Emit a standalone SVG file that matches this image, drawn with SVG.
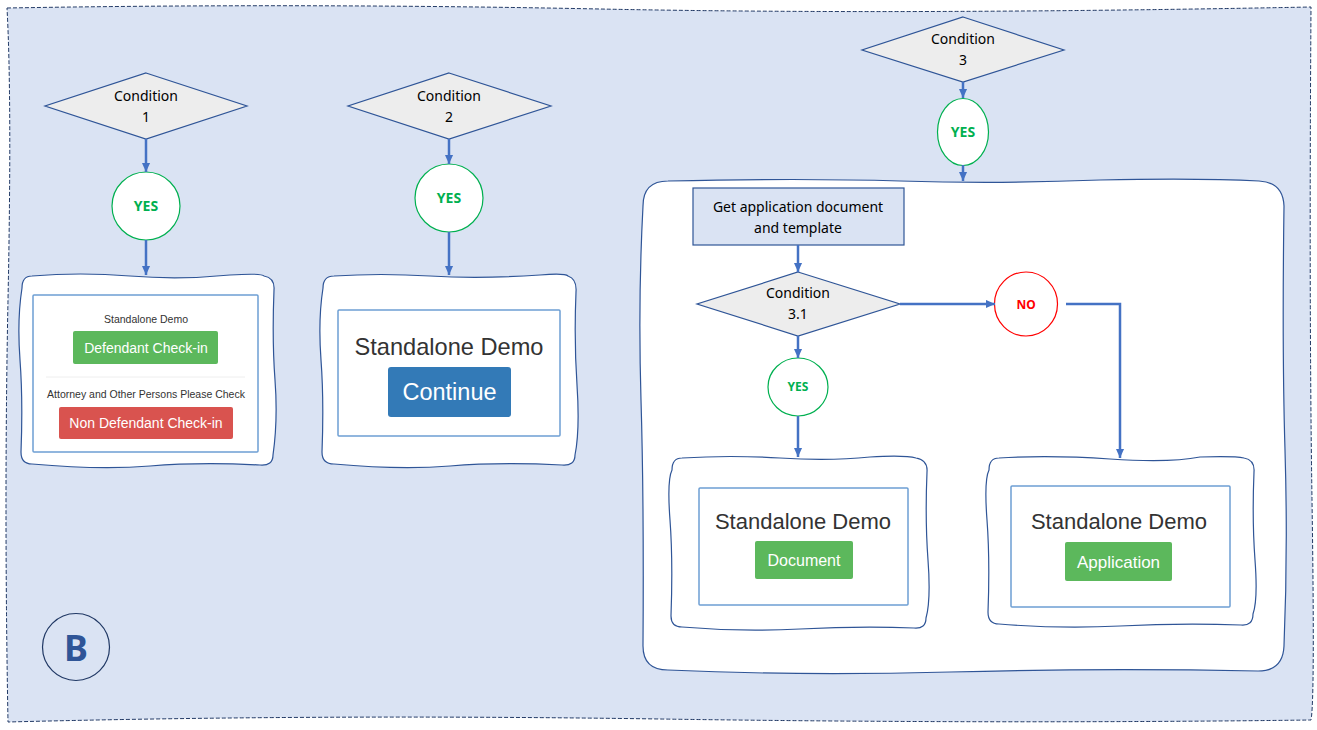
<svg xmlns="http://www.w3.org/2000/svg" width="1317" height="730" viewBox="0 0 1317 730">
<style>
.cond{fill:#ededed;stroke:#2f5597;stroke-width:1.2}
.ctext{font-family:"Noto Sans","Liberation Sans",sans-serif;font-size:14px;fill:#000;text-anchor:middle}
.yes{fill:#fff;stroke:#00b050;stroke-width:1.2}
.yest{font-family:"Noto Sans","Liberation Sans",sans-serif;font-weight:bold;fill:#00b050;text-anchor:middle}
.wbox{fill:#fff;stroke:#2f5597;stroke-width:1.2}
.inner{fill:#fff;stroke:#6d9fd3;stroke-width:1.5}
.sd{font-family:"Liberation Sans",Arial,sans-serif;fill:#333;text-anchor:middle}
.btn{font-family:"Liberation Sans",Arial,sans-serif;fill:#fff;text-anchor:middle}
.conn{fill:none;stroke:#4472c4;stroke-width:2.5}
</style>
<defs>
<marker id="ah" viewBox="0 0 10 10" refX="10" refY="5" markerWidth="9" markerHeight="9" markerUnits="userSpaceOnUse" orient="auto">
<path d="M0,0.5 L10,5 L0,9.5 z" fill="#4472c4"/>
</marker>
</defs>
<rect width="1317" height="730" fill="#fff"/>
<g id="background">
<path d="M7,8 Q300,3 600,9 T1311,7 Q1309,300 1312,500 T1311,720 Q1000,724 660,719 T8,722 Q4,500 8,300 T7,8 Z" fill="#dae3f3" stroke="#203864" stroke-width="1" stroke-dasharray="4 2"/>
</g>
<g id="cond1">
<polygon class="cond" points="146,73 247,106 146,139 45,106"/>
<text class="ctext" x="146" y="101">Condition</text>
<text class="ctext" x="146" y="122">1</text>
</g>
<g id="yes1">
<circle class="yes" cx="146" cy="206" r="34"/>
<text class="yest" x="146" y="211" font-size="14">YES</text>
</g>
<g id="box1">
<path class="wbox" d="M32,276 Q80,272 130,276 T230,275 Q262,273 264,276 Q275,278 274,290 Q272,340 275,380 T273,455 Q273,466 260,465 Q200,462 150,466 T32,464 Q21,464 21,452 Q23,400 20,360 T22,288 Q22,276 32,276 Z"/>
<rect class="inner" x="33" y="295" width="225" height="157" rx="1"/>
<text class="sd" x="146" y="323" font-size="10.5">Standalone Demo</text>
<rect x="73" y="331" width="145" height="33" rx="2" fill="#5cb85c"/>
<text class="btn" x="146" y="353" font-size="14">Defendant Check-in</text>
<line x1="46" y1="377" x2="245" y2="377" stroke="#eeeeee" stroke-width="1"/>
<text class="sd" x="146" y="398" font-size="10.5">Attorney and Other Persons Please Check</text>
<rect x="59" y="407" width="174" height="32" rx="2" fill="#d9534f"/>
<text class="btn" x="146" y="428" font-size="14">Non Defendant Check-in</text>
</g>
<g id="cond2">
<polygon class="cond" points="449,73 551,106 449,139 348,106"/>
<text class="ctext" x="449" y="101">Condition</text>
<text class="ctext" x="449" y="122">2</text>
</g>
<g id="yes2">
<circle class="yes" cx="449" cy="198" r="34"/>
<text class="yest" x="449" y="203" font-size="14">YES</text>
</g>
<g id="box2">
<path class="wbox" d="M334,276 Q380,273 430,276 T540,275 Q565,273 568,276 Q577,279 576,292 Q574,340 577,385 T575,455 Q575,466 562,465 Q500,462 450,466 T334,464 Q322,464 322,452 Q324,400 321,360 T323,288 Q323,276 334,276 Z"/>
<rect class="inner" x="338" y="310" width="222" height="126" rx="1"/>
<text class="sd" x="449" y="355" font-size="23.6">Standalone Demo</text>
<rect x="388" y="367" width="123" height="50" rx="3" fill="#337ab7"/>
<text class="btn" x="449.5" y="400" font-size="23.5">Continue</text>
</g>
<g id="cond3">
<polygon class="cond" points="963,17 1064,50 963,82 862,50"/>
<text class="ctext" x="963" y="44">Condition</text>
<text class="ctext" x="963" y="65">3</text>
</g>
<g id="yes3">
<ellipse class="yes" cx="963" cy="132" rx="25.5" ry="33.5"/>
<text class="yest" x="963" y="137" font-size="14">YES</text>
</g>
<g id="bigbox">
<path class="wbox" d="M668,181 Q800,178 900,181 T1100,180 Q1200,178 1259,181 Q1283,182 1284,206 Q1282,350 1285,450 T1284,646 Q1283,671 1258,671 Q1100,668 950,672 T668,670 Q643,670 643,646 Q644,500 641,400 T643,206 Q643,181 668,181 Z"/>
</g>
<g id="getapp">
<rect x="693" y="188" width="211" height="57" fill="#dae3f3" stroke="#2f5597" stroke-width="1.2"/>
<text class="ctext" x="798" y="212">Get application document</text>
<text class="ctext" x="798" y="233">and template</text>
</g>
<g id="cond31">
<polygon class="cond" points="798,272 900,304 798,336 697,304"/>
<text class="ctext" x="798" y="298">Condition</text>
<text class="ctext" x="798" y="319">3.1</text>
</g>
<g id="no">
<ellipse cx="1026" cy="304" rx="31.5" ry="32" fill="#fff" stroke="#ff0000" stroke-width="1.2"/>
<text x="1026" y="308.5" font-family="Noto Sans,Liberation Sans,sans-serif" font-weight="bold" font-size="12" fill="#ff0000" text-anchor="middle">NO</text>
</g>
<g id="yes31">
<ellipse class="yes" cx="798" cy="387" rx="30" ry="29"/>
<text class="yest" x="798" y="391" font-size="12">YES</text>
</g>
<g id="boxdoc">
<path class="wbox" d="M682,458 Q730,455 780,458 T870,457 Q905,455 916,458 Q928,460 927,472 Q925,520 928,560 T926,618 Q926,629 914,628 Q860,626 800,629 T682,627 Q671,627 671,616 Q673,560 670,520 T672,470 Q672,458 682,458 Z"/>
<rect class="inner" x="699" y="488" width="209" height="117" rx="1"/>
<text class="sd" x="803" y="529" font-size="22">Standalone Demo</text>
<rect x="755" y="541" width="98" height="38" rx="2" fill="#5cb85c"/>
<text class="btn" x="804" y="566" font-size="16">Document</text>
</g>
<g id="boxapp">
<path class="wbox" d="M999,458 Q1050,455 1110,459 T1200,457 Q1235,456 1244,458 Q1255,460 1254,472 Q1252,520 1255,560 T1253,614 Q1253,626 1241,625 Q1180,623 1120,626 T999,624 Q988,624 988,612 Q990,560 987,520 T989,470 Q989,458 999,458 Z"/>
<rect class="inner" x="1011" y="486" width="219" height="121" rx="1"/>
<text class="sd" x="1119" y="529" font-size="22">Standalone Demo</text>
<rect x="1065" y="542" width="107" height="39" rx="2" fill="#5cb85c"/>
<text class="btn" x="1118.5" y="568" font-size="17">Application</text>
</g>
<g id="labelB">
<circle cx="76" cy="647" r="33.5" fill="none" stroke="#203864" stroke-width="1.2"/>
<text x="76" y="661" font-family="Noto Sans,Liberation Sans,sans-serif" font-weight="bold" font-size="36" fill="#2f5597" text-anchor="middle">B</text>
</g>
<g id="connectors">
<line class="conn" x1="146" y1="139" x2="146" y2="172" marker-end="url(#ah)"/>
<line class="conn" x1="146" y1="240" x2="146" y2="275" marker-end="url(#ah)"/>
<line class="conn" x1="449" y1="139" x2="449" y2="164" marker-end="url(#ah)"/>
<line class="conn" x1="449" y1="232" x2="449" y2="275" marker-end="url(#ah)"/>
<line class="conn" x1="963" y1="82" x2="963" y2="98" marker-end="url(#ah)"/>
<line class="conn" x1="963" y1="165" x2="963" y2="181" marker-end="url(#ah)"/>
<line class="conn" x1="798" y1="245" x2="798" y2="272" marker-end="url(#ah)"/>
<line class="conn" x1="900" y1="304" x2="995" y2="304" marker-end="url(#ah)"/>
<polyline class="conn" points="1066,304 1120,304 1120,458" marker-end="url(#ah)"/>
<line class="conn" x1="798" y1="336" x2="798" y2="358" marker-end="url(#ah)"/>
<line class="conn" x1="798" y1="416" x2="798" y2="457" marker-end="url(#ah)"/>
</g>
</svg>
